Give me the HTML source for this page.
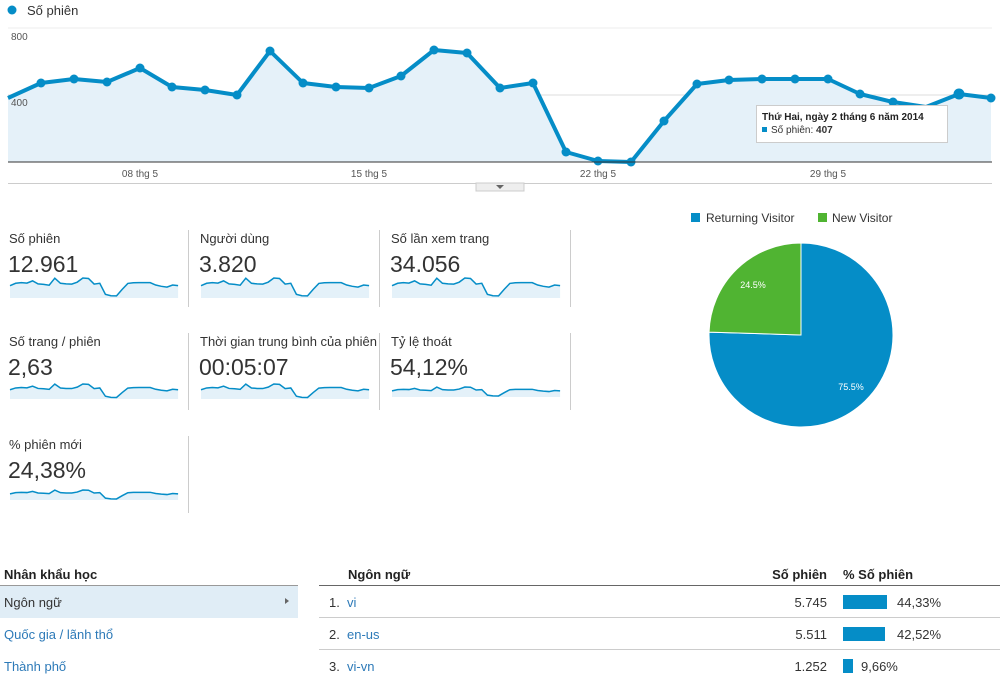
<!DOCTYPE html>
<html><head><meta charset="utf-8"><style>
body{margin:0;background:#fff;width:1000px;height:681px;overflow:hidden}
svg{display:block;font-family:"Liberation Sans",Arial,sans-serif}
</style></head><body>
<svg width="1000" height="681" viewBox="0 0 1000 681" xmlns="http://www.w3.org/2000/svg">
<defs>
<g id="spark">
<polygon points="8,98 41,83 74,79 107,82 140,68 172,87 205,90 237,95 270,51 303,83 336,87 369,88 401,76 434,50 467,53 500,88 533,83 566,152 598,161 631,162 664,121 697,84 729,80 762,79 795,79 828,79 860,94 893,102 926,107 959,94 991,98 991,175 8,175" fill="#e4f1f9"/>
<polyline points="8,98 41,83 74,79 107,82 140,68 172,87 205,90 237,95 270,51 303,83 336,87 369,88 401,76 434,50 467,53 500,88 533,83 566,152 598,161 631,162 664,121 697,84 729,80 762,79 795,79 828,79 860,94 893,102 926,107 959,94 991,98" fill="none" stroke="#058dc7" stroke-width="1.5" vector-effect="non-scaling-stroke"/>
</g>
</defs>
<circle cx="12" cy="10" r="4.5" fill="#058dc7"/>
<text x="27" y="15" font-size="13" fill="#333">Số phiên</text>
<line x1="8" y1="28" x2="992" y2="28" stroke="#eee"/>
<line x1="8" y1="95" x2="992" y2="95" stroke="#ddd"/>
<polygon points="8,98 41,83 74,79 107,82 140,68 172,87 205,90 237,95 270,51 303,83 336,87 369,88 401,76 434,50 467,53 500,88 533,83 566,152 598,161 631,162 664,121 697,84 729,80 762,79 795,79 828,79 860,94 893,102 926,107 959,94 991,98 991,162 8,162" fill="#e5f1f9"/>
<text x="11" y="40" font-size="10" fill="#555">800</text>
<text x="11" y="106" font-size="10" fill="#555">400</text>
<polyline points="8,98 41,83 74,79 107,82 140,68 172,87 205,90 237,95 270,51 303,83 336,87 369,88 401,76 434,50 467,53 500,88 533,83 566,152 598,161 631,162 664,121 697,84 729,80 762,79 795,79 828,79 860,94 893,102 926,107 959,94 991,98" fill="none" stroke="#058dc7" stroke-width="4" stroke-linejoin="round"/>
<g fill="#058dc7">
<circle cx="41" cy="83" r="4.5"/><circle cx="74" cy="79" r="4.5"/><circle cx="107" cy="82" r="4.5"/><circle cx="140" cy="68" r="4.5"/><circle cx="172" cy="87" r="4.5"/><circle cx="205" cy="90" r="4.5"/><circle cx="237" cy="95" r="4.5"/><circle cx="270" cy="51" r="4.5"/><circle cx="303" cy="83" r="4.5"/><circle cx="336" cy="87" r="4.5"/><circle cx="369" cy="88" r="4.5"/><circle cx="401" cy="76" r="4.5"/><circle cx="434" cy="50" r="4.5"/><circle cx="467" cy="53" r="4.5"/><circle cx="500" cy="88" r="4.5"/><circle cx="533" cy="83" r="4.5"/><circle cx="566" cy="152" r="4.5"/><circle cx="598" cy="161" r="4.5"/><circle cx="631" cy="162" r="4.5"/><circle cx="664" cy="121" r="4.5"/><circle cx="697" cy="84" r="4.5"/><circle cx="729" cy="80" r="4.5"/><circle cx="762" cy="79" r="4.5"/><circle cx="795" cy="79" r="4.5"/><circle cx="828" cy="79" r="4.5"/><circle cx="860" cy="94" r="4.5"/><circle cx="893" cy="102" r="4.5"/><circle cx="959" cy="94" r="5.5"/><circle cx="991" cy="98" r="4.5"/>
</g>
<line x1="8" y1="162" x2="992" y2="162" stroke="#333" stroke-width="1"/>
<g font-size="10" fill="#555" text-anchor="middle">
<text x="140" y="177">08 thg 5</text><text x="369" y="177">15 thg 5</text><text x="598" y="177">22 thg 5</text><text x="828" y="177">29 thg 5</text>
</g>
<line x1="8" y1="183.5" x2="992" y2="183.5" stroke="#ccc"/>
<rect x="476" y="183" width="48" height="8" fill="#eee" stroke="#ccc"/>
<polygon points="496,185 504,185 500,189" fill="#666"/>
<rect x="756.5" y="105.5" width="191" height="37" fill="#fff" stroke="#ccc"/>
<text x="762" y="120" font-size="10" font-weight="bold" fill="#222">Thứ Hai, ngày 2 tháng 6 năm 2014</text>
<rect x="762" y="127" width="5" height="5" fill="#058dc7"/>
<text x="771" y="133" font-size="10" fill="#333">Số phiên: <tspan font-weight="bold">407</tspan></text>
<g fill="#333">
<text x="9" y="243" font-size="13">Số phiên</text><text x="8" y="272" font-size="23">12.961</text>
<text x="200" y="243" font-size="13">Người dùng</text><text x="199" y="272" font-size="23">3.820</text>
<text x="391" y="243" font-size="13">Số lần xem trang</text><text x="390" y="272" font-size="23">34.056</text>
<text x="9" y="346" font-size="13">Số trang / phiên</text><text x="8" y="375" font-size="23">2,63</text>
<text x="200" y="346" font-size="13">Thời gian trung bình của phiên</text><text x="199" y="375" font-size="23">00:05:07</text>
<text x="391" y="346" font-size="13">Tỷ lệ thoát</text><text x="390" y="375" font-size="23">54,12%</text>
<text x="9" y="449" font-size="13">% phiên mới</text><text x="8" y="478" font-size="23">24,38%</text>
</g>
<g stroke="#ccc">
<line x1="188.5" y1="230" x2="188.5" y2="307"/><line x1="379.5" y1="230" x2="379.5" y2="307"/><line x1="570.5" y1="230" x2="570.5" y2="307"/>
<line x1="188.5" y1="333" x2="188.5" y2="410"/><line x1="379.5" y1="333" x2="379.5" y2="410"/><line x1="570.5" y1="333" x2="570.5" y2="410"/>
<line x1="188.5" y1="436" x2="188.5" y2="513"/>
</g>
<use href="#spark" transform="translate(10,278) scale(0.171,0.16) translate(-8,-50)"/>
<use href="#spark" transform="translate(201,278) scale(0.171,0.16) translate(-8,-50)"/>
<use href="#spark" transform="translate(392,278) scale(0.171,0.16) translate(-8,-50)"/>
<use href="#spark" transform="translate(10,384) scale(0.171,0.12) translate(-8,-50)"/>
<use href="#spark" transform="translate(201,384) scale(0.171,0.12) translate(-8,-50)"/>
<use href="#spark" transform="translate(392,387) scale(0.171,0.08) translate(-8,-50)"/>
<use href="#spark" transform="translate(10,490) scale(0.171,0.08) translate(-8,-50)"/>
<rect x="691" y="213" width="9" height="9" fill="#058dc7"/>
<text x="706" y="222" font-size="12" fill="#333">Returning Visitor</text>
<rect x="818" y="213" width="9" height="9" fill="#50b432"/>
<text x="832" y="222" font-size="12" fill="#333">New Visitor</text>
<path d="M801,335 L801,243 A92,92 0 1 1 709.05,332.1 Z" fill="#058dc7" stroke="#fff" stroke-width="1"/>
<path d="M801,335 L709.05,332.1 A92,92 0 0 1 801,243 Z" fill="#50b432" stroke="#fff" stroke-width="1"/>
<text x="753" y="288" font-size="9" fill="#fff" text-anchor="middle">24.5%</text>
<text x="851" y="390" font-size="9" fill="#fff" text-anchor="middle">75.5%</text>
<text x="4" y="579" font-size="13" font-weight="bold" fill="#222">Nhân khẩu học</text>
<line x1="0" y1="585.5" x2="298" y2="585.5" stroke="#999"/>
<rect x="0" y="586" width="298" height="32" fill="#e0edf6"/>
<text x="4" y="607" font-size="13" fill="#333">Ngôn ngữ</text>
<polygon points="285,598 289,601 285,604" fill="#666"/>
<text x="4" y="639" font-size="13" fill="#2d7ab8">Quốc gia / lãnh thổ</text>
<text x="4" y="671" font-size="13" fill="#2d7ab8">Thành phố</text>
<text x="348" y="579" font-size="13" font-weight="bold" fill="#222">Ngôn ngữ</text>
<text x="827" y="579" font-size="13" font-weight="bold" fill="#222" text-anchor="end">Số phiên</text>
<text x="843" y="579" font-size="13" font-weight="bold" fill="#222">% Số phiên</text>
<line x1="319" y1="585.5" x2="1000" y2="585.5" stroke="#666"/>
<line x1="319" y1="617.5" x2="1000" y2="617.5" stroke="#ccc"/>
<line x1="319" y1="649.5" x2="1000" y2="649.5" stroke="#ccc"/>
<g font-size="13">
<text x="329" y="607" fill="#333">1.</text><text x="347" y="607" fill="#2d7ab8">vi</text>
<text x="827" y="607" fill="#333" text-anchor="end">5.745</text>
<rect x="843" y="595" width="44" height="14" fill="#058dc7"/><text x="897" y="607" fill="#333">44,33%</text>
<text x="329" y="639" fill="#333">2.</text><text x="347" y="639" fill="#2d7ab8">en-us</text>
<text x="827" y="639" fill="#333" text-anchor="end">5.511</text>
<rect x="843" y="627" width="42" height="14" fill="#058dc7"/><text x="897" y="639" fill="#333">42,52%</text>
<text x="329" y="671" fill="#333">3.</text><text x="347" y="671" fill="#2d7ab8">vi-vn</text>
<text x="827" y="671" fill="#333" text-anchor="end">1.252</text>
<rect x="843" y="659" width="10" height="14" fill="#058dc7"/><text x="861" y="671" fill="#333">9,66%</text>
</g>
</svg>
</body></html>
